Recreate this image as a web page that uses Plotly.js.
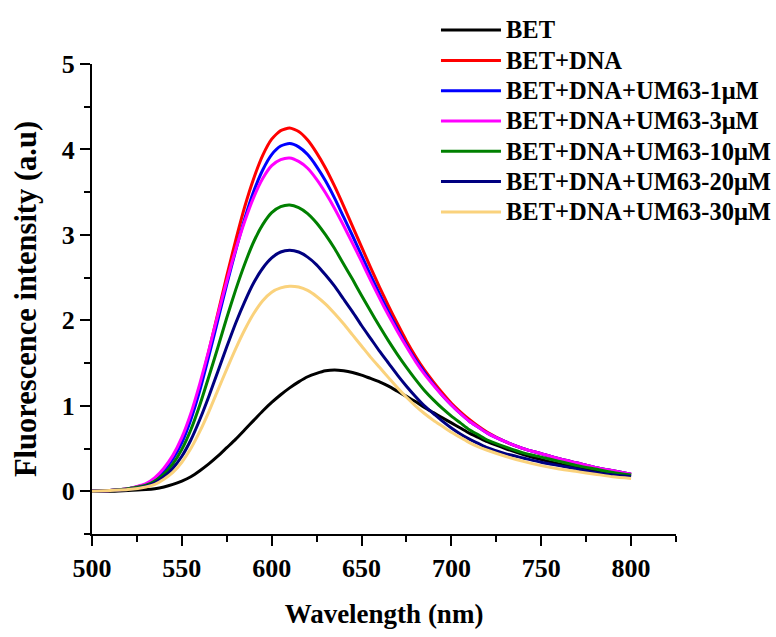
<!DOCTYPE html>
<html>
<head>
<meta charset="utf-8">
<script src="https://cdn.plot.ly/plotly-3.0.1.min.js"></script>
<style>html,body{margin:0;padding:0;background:#fff;}#chart{width:776px;height:637px;}</style>
</head>
<body>
<div id="chart"></div>
<script>
const wavelength = [500,510,520,530,535,540,545,550,555,560,565,570,575,580,585,590,595,600,605,610,615,620,625,630,635,640,645,650,655,660,665,670,675,680,685,690,695,700,705,710,715,720,730,740,750,760,770,780,790,800];

const bet = [0,0,0.01,0.02,0.03,0.05,0.08,0.12,0.17,0.24,0.32,0.41,0.51,0.61,0.72,0.83,0.94,1.04,1.13,1.21,1.28,1.34,1.38,1.41,1.42,1.41,1.39,1.36,1.32,1.28,1.23,1.17,1.11,1.05,0.98,0.92,0.86,0.80,0.74,0.68,0.63,0.58,0.50,0.43,0.37,0.32,0.28,0.24,0.21,0.18];

const betDna = [0,0.01,0.03,0.08,0.14,0.24,0.38,0.58,0.86,1.22,1.64,2.08,2.52,2.94,3.33,3.66,3.93,4.12,4.22,4.25,4.21,4.11,3.96,3.78,3.57,3.34,3.10,2.86,2.62,2.39,2.17,1.96,1.76,1.58,1.42,1.28,1.15,1.03,0.93,0.84,0.76,0.69,0.58,0.50,0.44,0.38,0.33,0.28,0.24,0.20];

const um1 = [0,0.01,0.03,0.08,0.14,0.24,0.38,0.57,0.84,1.18,1.58,2.00,2.42,2.82,3.19,3.51,3.76,3.94,4.04,4.07,4.03,3.94,3.80,3.63,3.43,3.21,2.99,2.76,2.53,2.31,2.10,1.90,1.71,1.54,1.39,1.25,1.12,1.01,0.91,0.82,0.75,0.68,0.58,0.50,0.44,0.38,0.33,0.28,0.24,0.20];

const um3 = [0,0.01,0.03,0.09,0.16,0.27,0.42,0.63,0.91,1.26,1.65,2.06,2.46,2.83,3.16,3.44,3.66,3.81,3.88,3.90,3.86,3.78,3.65,3.49,3.31,3.11,2.90,2.69,2.47,2.26,2.06,1.87,1.69,1.52,1.37,1.24,1.12,1.01,0.91,0.82,0.75,0.68,0.58,0.50,0.44,0.38,0.33,0.28,0.24,0.20];

const um10 = [0,0.01,0.03,0.07,0.12,0.20,0.32,0.49,0.72,1.01,1.34,1.68,2.03,2.36,2.66,2.92,3.12,3.26,3.33,3.35,3.32,3.25,3.14,3.00,2.84,2.66,2.48,2.29,2.11,1.93,1.76,1.60,1.45,1.31,1.18,1.07,0.97,0.88,0.80,0.72,0.66,0.60,0.52,0.45,0.40,0.35,0.30,0.26,0.22,0.19];

const um20 = [0,0.01,0.02,0.06,0.10,0.17,0.27,0.41,0.60,0.84,1.11,1.40,1.69,1.97,2.22,2.44,2.61,2.73,2.80,2.82,2.80,2.74,2.65,2.53,2.40,2.25,2.10,1.94,1.79,1.64,1.50,1.36,1.23,1.11,1.00,0.91,0.82,0.74,0.67,0.61,0.56,0.51,0.44,0.39,0.34,0.30,0.26,0.22,0.19,0.17];

const um30 = [0,0.01,0.02,0.05,0.08,0.14,0.22,0.34,0.50,0.70,0.93,1.18,1.43,1.67,1.89,2.08,2.23,2.33,2.38,2.40,2.39,2.35,2.28,2.19,2.08,1.96,1.83,1.70,1.57,1.45,1.33,1.21,1.10,1.00,0.91,0.83,0.76,0.69,0.63,0.57,0.52,0.48,0.41,0.35,0.30,0.26,0.23,0.20,0.17,0.15];

const seriesNames = ["BET","BET+DNA","BET+DNA+UM63-1\u03bcM","BET+DNA+UM63-3\u03bcM","BET+DNA+UM63-10\u03bcM","BET+DNA+UM63-20\u03bcM","BET+DNA+UM63-30\u03bcM"];
const seriesValues = [bet, betDna, um1, um3, um10, um20, um30];
const seriesColors = ["#000000","#ff0000","#0000ff","#ff00ff","#008000","#000080","#fad27c"];

const xTickVals = [500,550,600,650,700,750,800];
const yTickVals = [0,1,2,3,4,5];

const FONT = "'Liberation Serif','Times New Roman',serif";

const traces = seriesNames.map((name, i) => ({
  x: wavelength,
  y: seriesValues[i],
  name: '<span style="font-size:24.5px">' + name + '</span>',
  type: 'scatter',
  mode: 'lines',
  line: {color: seriesColors[i], width: 3, shape: 'spline', smoothing: 0.6}
}));

const layout = {
  width: 776, height: 637,
  paper_bgcolor: '#fff', plot_bgcolor: '#fff',
  margin: {l: 92, r: 100, t: 64, b: 103, autoexpand: false},
  font: {family: FONT, color: '#000', size: 24, weight: 'bold'},
  showlegend: true,
  legend: {
    x: 0.589, xanchor: 'left', y: 1.115, yanchor: 'top',
    bgcolor: 'rgba(0,0,0,0)', borderwidth: 0,
    font: {family: FONT, size: 21, color: '#000', weight: 'bold'},
    itemwidth: 60, tracegroupgap: 0
  },
  xaxis: {
    range: [500, 825], showgrid: false, zeroline: false,
    showline: true, linecolor: '#000', linewidth: 2,
    ticks: 'outside', ticklen: 10, tickwidth: 2, tickcolor: '#000',
    tickmode: 'array', tickvals: xTickVals, ticktext: xTickVals.map(String),
    minor: {ticks: 'outside', ticklen: 6, tickwidth: 2, tickcolor: '#000', dtick: 25, tick0: 500},
    tickfont: {family: FONT, size: 26, color: '#000', weight: 'bold'},
    title: {text: 'Wavelength (nm)', font: {family: FONT, size: 27, color: '#000', weight: 'bold'}, standoff: 22}
  },
  yaxis: {
    range: [-0.5, 5], showgrid: false, zeroline: false,
    showline: true, linecolor: '#000', linewidth: 2,
    ticks: 'outside', ticklen: 10, tickwidth: 2, tickcolor: '#000',
    tickmode: 'array', tickvals: yTickVals, ticktext: yTickVals.map(String),
    minor: {ticks: 'outside', ticklen: 6, tickwidth: 2, tickcolor: '#000', dtick: 0.5, tick0: 0},
    tickfont: {family: FONT, size: 26, color: '#000', weight: 'bold'},
    title: {text: 'Fluorescence intensity (a.u)', font: {family: FONT, size: 30.5, color: '#000', weight: 'bold'}, standoff: 16}
  }
};

Plotly.newPlot('chart', traces, layout, {displayModeBar: false, staticPlot: true});
</script>
</body>
</html>
